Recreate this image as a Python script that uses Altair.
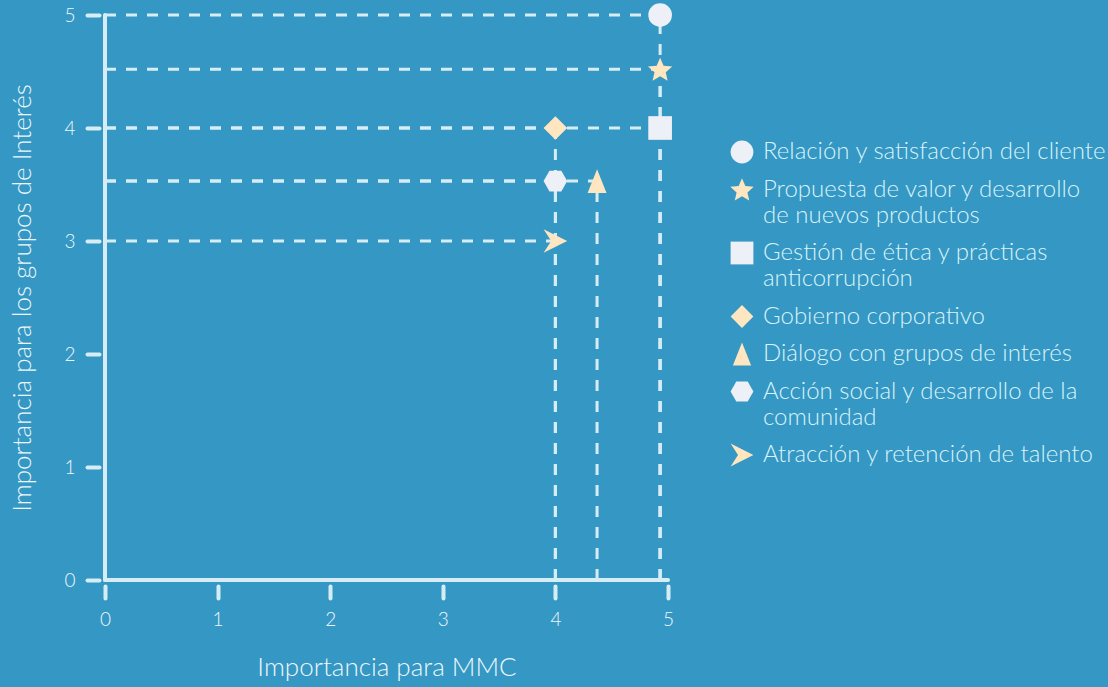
import math
import altair as alt
import pandas as pd

# ---- data ----
temas = [
    "Relación y satisfacción del cliente",
    "Propuesta de valor y desarrollo de nuevos productos",
    "Gestión de ética y prácticas anticorrupción",
    "Gobierno corporativo",
    "Diálogo con grupos de interés",
    "Acción social y desarrollo de la comunidad",
    "Atracción y retención de talento",
]
importancia_mmc = [4.93, 4.93, 4.93, 4.0, 4.37, 4.0, 4.0]
importancia_grupos = [5.0, 4.52, 4.0, 4.0, 3.53, 3.53, 3.0]
lineas_leyenda = [
    ["Relación y satisfacción del cliente"],
    ["Propuesta de valor y desarrollo", "de nuevos productos"],
    ["Gestión de ética y prácticas", "anticorrupción"],
    ["Gobierno corporativo"],
    ["Diálogo con grupos de interés"],
    ["Acción social y desarrollo de la", "comunidad"],
    ["Atracción y retención de talento"],
]
ticks = [0, 1, 2, 3, 4, 5]
eje_min, eje_max = 0, 5

# ---- styles ----
BG = "#3597c3"
LINE = "#d6edf6"
WHITE_MARK = "#eef0f8"
CREAM = "#fde6c0"
TEXT = "#eef8fc"
LEGEND_TEXT = "#d8f3fa"
FONT = "Lato"

star_pts = []
for i in range(10):
    r = 1.08 if i % 2 == 0 else 0.5
    a = -math.pi / 2 + i * math.pi / 5
    star_pts.append(f"{r*math.cos(a):.3f},{r*math.sin(a)+0.1:.3f}")
STAR = "M" + "L".join(star_pts) + "Z"
TRI = "M0,-1L0.8,1L-0.8,1Z"
HEX = "M-1,0L-0.5,-0.87L0.5,-0.87L1,0L0.5,0.87L-0.5,0.87Z"
ARROW = "M1,0L-1,-1L-0.35,0L-1,1Z"

shapes = ["circle", STAR, "square", "diamond", TRI, HEX, ARROW]
colors = [WHITE_MARK, CREAM, WHITE_MARK, CREAM, CREAM, WHITE_MARK, CREAM]

df = pd.DataFrame({
    "tema": temas,
    "mmc": importancia_mmc,
    "grupos": importancia_grupos,
    "cero": [float(eje_min)] * len(temas),
})
ejes_df = pd.DataFrame({"a": [float(eje_min)], "b": [float(eje_max)]})

# label expression for multi-line legend entries
expr = "datum.label"
for name, lines in reversed(list(zip(temas, lineas_leyenda))):
    arr = "[" + ",".join("'" + l + "'" for l in lines) + "]"
    expr = f"datum.label == '{name}' ? {arr} : ({expr})"

xs = alt.Scale(domain=[eje_min, eje_max], nice=False, zero=True)
ys = alt.Scale(domain=[eje_min, eje_max], nice=False, zero=True)

x_axis = alt.Axis(
    values=ticks, format="d", domain=False, grid=False, offset=6,
    tickSize=12, tickWidth=4, tickColor=LINE, tickCap="round",
    labelFlush=False, labelBound=False,
    labelPadding=12, labelFontSize=19, labelColor=TEXT, labelFont=FONT,
    labelFontWeight=300, title="Importancia para MMC", titleFontSize=26,
    titleFont=FONT, titleFontWeight=300, titleColor=TEXT, titlePadding=25,
)
y_axis = alt.Axis(
    values=ticks, format="d", domain=False, grid=False, offset=6,
    tickSize=12, tickWidth=4, tickColor=LINE, tickCap="round",
    labelFlush=False, labelBound=False,
    labelPadding=12, labelFontSize=19, labelColor=TEXT, labelFont=FONT,
    labelFontWeight=300, title="Importancia para los grupos de Interés",
    titleFontSize=26, titleFont=FONT, titleFontWeight=300, titleColor=TEXT,
    titlePadding=28,
)

ejes = alt.Chart(ejes_df)
eje_x = ejes.mark_rule(color=LINE, strokeWidth=4, strokeCap="round").encode(
    x=alt.X("a:Q", scale=xs, axis=x_axis),
    x2="b:Q",
    y=alt.Y("a:Q", scale=ys, axis=y_axis),
)
eje_y = ejes.mark_rule(color=LINE, strokeWidth=4, strokeCap="round").encode(
    x=alt.X("a:Q", scale=xs),
    y=alt.Y("a:Q", scale=ys),
    y2="b:Q",
)

base = alt.Chart(df)
# dashed guides, drawn from the axes toward each point so overlaps stay in phase
h_lines = base.mark_rule(color=LINE, strokeWidth=3, strokeDash=[11, 10]).encode(
    x=alt.X("cero:Q", scale=xs), x2="mmc:Q", y=alt.Y("grupos:Q", scale=ys)
)
v_lines = base.mark_rule(color=LINE, strokeWidth=3, strokeDash=[11, 10]).encode(
    x=alt.X("mmc:Q", scale=xs), y=alt.Y("cero:Q", scale=ys), y2="grupos:Q"
)

leyenda = alt.Legend(
    title=None, orient="none", legendX=625, legendY=125, padding=0,
    labelExpr=expr, labelFont=FONT, labelFontSize=24, labelFontWeight=300,
    labelColor=LEGEND_TEXT, labelLimit=0, labelOffset=9, symbolSize=520,
    symbolStrokeWidth=0, symbolOpacity=1, rowPadding=13.5,
)

puntos = base.mark_point(filled=True, size=560, opacity=1, strokeWidth=0).encode(
    x=alt.X("mmc:Q", scale=xs),
    y=alt.Y("grupos:Q", scale=ys),
    shape=alt.Shape("tema:N", scale=alt.Scale(domain=temas, range=shapes), legend=leyenda),
    color=alt.Color("tema:N", scale=alt.Scale(domain=temas, range=colors), legend=leyenda),
)

chart = alt.layer(eje_x, eje_y, h_lines, v_lines, puntos).properties(
    width=563, height=565,
    autosize=alt.AutoSizeParams(type="none"),
    padding={"left": 105, "top": 15, "right": 440, "bottom": 107},
    background=BG,
).configure(
    font=FONT,
    view=alt.ViewConfig(strokeWidth=0, stroke="transparent"),
)

chart.save("out.html", embed_options={"renderer": "svg", "actions": False})
